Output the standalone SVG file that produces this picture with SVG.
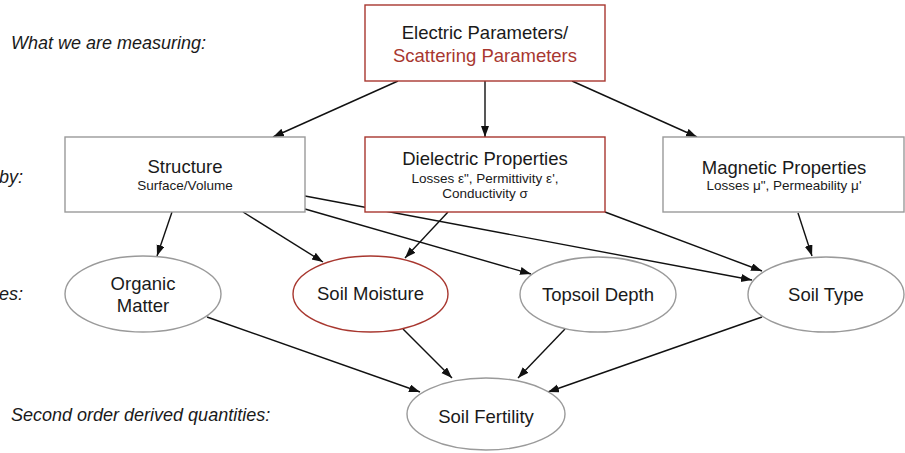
<svg xmlns="http://www.w3.org/2000/svg" width="905" height="453" viewBox="0 0 905 453">
<defs>
<marker id="arr" markerUnits="userSpaceOnUse" markerWidth="12" markerHeight="9" refX="11" refY="4" orient="auto">
<path d="M0,0 L11,4 L0,8 z" fill="#111"/>
</marker>
<style>
.t{font-family:"Liberation Sans",Arial,sans-serif;fill:#1a1a1a;text-anchor:middle}
.big{font-size:18.5px}
.small{font-size:13.5px}
.lab{font-family:"Liberation Sans",Arial,sans-serif;font-style:italic;font-size:18px;fill:#1a1a1a}
.gray{fill:#fff;stroke:#9a9a9a;stroke-width:1.4}
.red{fill:#fff;stroke:#a8372f;stroke-width:1.4}
.c{stroke:#111;stroke-width:1.4;fill:none;marker-end:url(#arr)}
</style>
</defs>
<rect width="905" height="453" fill="#fff"/>
<g id="labels">
<text class="lab" x="11" y="49">What we are measuring:</text>
<text class="lab" x="23" y="183" text-anchor="end">by:</text>
<text class="lab" x="23" y="300" text-anchor="end">es:</text>
<text class="lab" x="11" y="421">Second order derived quantities:</text>
</g>
<g id="connectors">
<line class="c" x1="398" y1="81" x2="273" y2="137"/>
<line class="c" x1="485" y1="81" x2="485" y2="137"/>
<line class="c" x1="572" y1="81" x2="697" y2="137"/>
<line class="c" x1="172" y1="212" x2="157" y2="256"/>
<line class="c" x1="243" y1="212" x2="323" y2="262"/>
<line class="c" x1="305" y1="209" x2="531" y2="274"/>
<line class="c" x1="305" y1="196" x2="752" y2="280"/>
<line class="c" x1="448" y1="212" x2="405" y2="258"/>
<line class="c" x1="605" y1="212" x2="762" y2="271"/>
<line class="c" x1="798" y1="213" x2="812" y2="256"/>
<line class="c" x1="207" y1="317" x2="420" y2="392"/>
<line class="c" x1="403" y1="329" x2="452" y2="378"/>
<line class="c" x1="565" y1="329" x2="518" y2="378"/>
<line class="c" x1="762" y1="317" x2="548" y2="392"/>
</g>
<g id="electric">
<rect class="red" x="365" y="5" width="240" height="76"/>
<text class="t big" x="485" y="39">Electric Parameters/</text>
<text class="t big" x="485" y="62" style="fill:#a8372f">Scattering Parameters</text>
</g>
<g id="structure">
<rect class="gray" x="65" y="137" width="240" height="75"/>
<text class="t big" x="185" y="173">Structure</text>
<text class="t small" x="185" y="190">Surface/Volume</text>
</g>
<g id="dielectric">
<rect class="red" x="365" y="137" width="240" height="75"/>
<text class="t big" x="485" y="165">Dielectric Properties</text>
<text class="t small" x="485" y="183">Losses ε", Permittivity ε',</text>
<text class="t small" x="485" y="198">Conductivity σ</text>
</g>
<g id="magnetic">
<rect class="gray" x="663" y="137" width="241" height="75"/>
<text class="t big" x="784" y="174">Magnetic Properties</text>
<text class="t small" x="784" y="190">Losses μ", Permeability μ'</text>
</g>
<g id="organic">
<ellipse class="gray" cx="143" cy="294" rx="78" ry="38"/>
<text class="t big" x="143" y="290">Organic</text>
<text class="t big" x="143" y="312">Matter</text>
</g>
<g id="moisture">
<ellipse class="red" cx="370.5" cy="294" rx="77.5" ry="38"/>
<text class="t big" x="370.5" y="300">Soil Moisture</text>
</g>
<g id="topsoil">
<ellipse class="gray" cx="598" cy="294.5" rx="78" ry="37.5"/>
<text class="t big" x="598" y="301">Topsoil Depth</text>
</g>
<g id="soiltype">
<ellipse class="gray" cx="826" cy="294.5" rx="78" ry="37.5"/>
<text class="t big" x="826" y="301">Soil Type</text>
</g>
<g id="fertility">
<ellipse class="gray" cx="486" cy="414" rx="79" ry="36"/>
<text class="t big" x="486" y="423">Soil Fertility</text>
</g>
</svg>
